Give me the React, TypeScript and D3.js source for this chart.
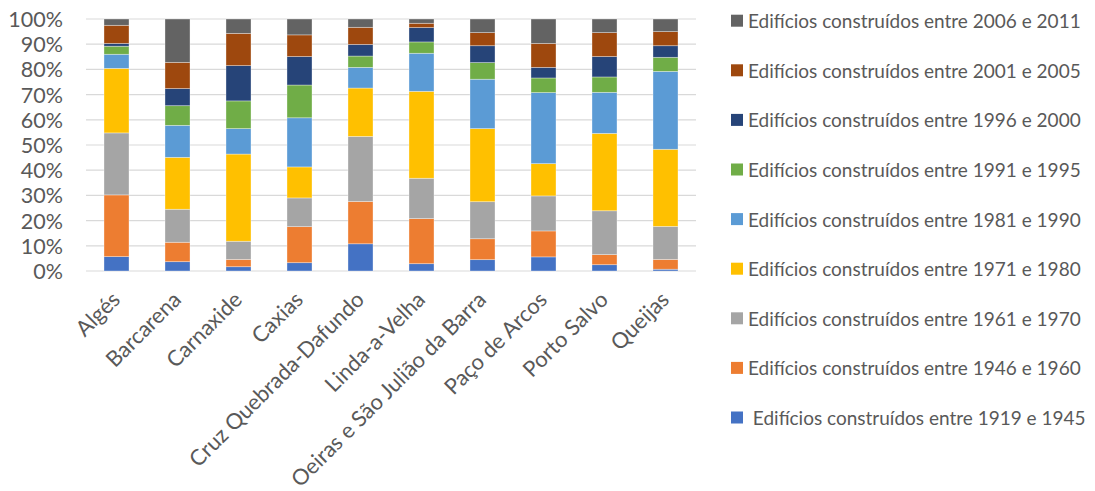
import React, { useEffect } from "react";
import * as d3 from "d3";

const categories = [
  "Algés",
  "Barcarena",
  "Carnaxide",
  "Caxias",
  "Cruz Quebrada-Dafundo",
  "Linda-a-Velha",
  "Oeiras e São Julião da Barra",
  "Paço de Arcos",
  "Porto Salvo",
  "Queijas",
];

// Series, bottom of stack first
const seriesNames = [
  " Edifícios construídos entre 1919 e 1945",
  "Edifícios construídos entre 1946 e 1960",
  "Edifícios construídos entre 1961 e 1970",
  "Edifícios construídos entre 1971 e 1980",
  "Edifícios construídos entre 1981 e 1990",
  "Edifícios construídos entre 1991 e 1995",
  "Edifícios construídos entre 1996 e 2000",
  "Edifícios construídos entre 2001 e 2005",
  "Edifícios construídos entre 2006 e 2011",
];

const colors = [
  "#4472C4",
  "#ED7D31",
  "#A5A5A5",
  "#FFC000",
  "#5B9BD5",
  "#70AD47",
  "#264478",
  "#9E480E",
  "#636363",
];

// Share of buildings (%) per construction period, one array per parish
const s1919_1945 = [5.7, 3.7, 1.7, 3.3, 10.8, 2.9, 4.5, 5.6, 2.5, 0.7];
const s1946_1960 = [24.5, 7.7, 2.9, 14.3, 16.8, 17.9, 8.3, 10.3, 4.0, 3.9];
const s1961_1970 = [24.6, 13.1, 7.2, 11.4, 25.8, 16.0, 14.7, 13.9, 17.4, 13.1];
const s1971_1980 = [25.6, 20.6, 34.6, 12.3, 19.2, 34.5, 29.0, 12.8, 30.7, 30.6];
const s1981_1990 = [5.6, 12.7, 10.1, 19.5, 8.2, 15.1, 19.6, 28.2, 16.3, 30.9];
const s1991_1995 = [3.2, 7.8, 11.0, 13.0, 4.5, 4.5, 6.6, 5.8, 6.1, 5.6];
const s1996_2000 = [1.1, 6.8, 14.0, 11.3, 4.6, 5.7, 6.7, 4.2, 8.1, 4.6];
const s2001_2005 = [7.2, 10.4, 12.8, 8.6, 6.8, 1.7, 5.2, 9.5, 9.5, 5.6];
const s2006_2011 = [2.5, 17.2, 5.7, 6.3, 3.3, 1.7, 5.4, 9.7, 5.4, 5.0];

const seriesValues = [
  s1919_1945,
  s1946_1960,
  s1961_1970,
  s1971_1980,
  s1981_1990,
  s1991_1995,
  s1996_2000,
  s2001_2005,
  s2006_2011,
];

const yTicks = [0, 10, 20, 30, 40, 50, 60, 70, 80, 90, 100];

const W = 1095;
const H = 491;
const plot = { left: 86, right: 696, top: 19, bottom: 271 };
const FONT = "Lato, 'Open Sans', sans-serif";
const TEXT = "#595959";

export default function App() {
  useEffect(() => {
    document.body.style.margin = "0";
  }, []);

  const x = d3
    .scaleBand<string>()
    .domain(categories)
    .range([plot.left, plot.right])
    .paddingInner(0.59)
    .paddingOuter(0.295);

  const y = d3.scaleLinear().domain([0, 100]).range([plot.bottom, plot.top]);

  const rows = categories.map((c, i) => {
    const r: Record<string, number | string> = { category: c };
    const total = d3.sum(seriesValues, (s) => s[i]);
    seriesValues.forEach((s, k) => {
      r["s" + k] = (s[i] / total) * 100;
    });
    return r;
  });
  const keys = seriesValues.map((_, k) => "s" + k);
  const stacked = d3.stack<Record<string, number | string>>().keys(keys)(rows as any);

  const legendOrder = d3.range(seriesNames.length).reverse();

  return (
    <svg width={W} height={H} style={{ display: "block", fontFamily: FONT }}>
      <rect width={W} height={H} fill="#fff" />
      {yTicks.map((t) => (
        <line
          key={t}
          x1={plot.left}
          x2={plot.right}
          y1={y(t)}
          y2={y(t)}
          stroke="#D9D9D9"
          strokeWidth={1.2}
        />
      ))}
      {yTicks.map((t) => (
        <text
          key={"l" + t}
          x={63}
          y={y(t)}
          textAnchor="end"
          dominantBaseline="central"
          fontSize={21.5}
          fill={TEXT}
        >
          {t + "%"}
        </text>
      ))}
      {stacked.map((layer, k) => (
        <g key={k} fill={colors[k]}>
          {layer.map((d, i) => (
            <rect
              key={i}
              x={x(categories[i])}
              width={x.bandwidth()}
              y={y(d[1])}
              height={y(d[0]) - y(d[1])}
              stroke="#ffffff"
              strokeOpacity={0.45}
              strokeWidth={0.75}
            />
          ))}
        </g>
      ))}
      {categories.map((c) => {
        const cx = (x(c) as number) + x.bandwidth() / 2 + 5;
        const cy = plot.bottom + 30;
        return (
          <text
            key={c}
            transform={`translate(${cx},${cy}) rotate(-45)`}
            textAnchor="end"
            fontSize={21.8}
            fill={TEXT}
          >
            {c}
          </text>
        );
      })}
      {legendOrder.map((k, j) => {
        const cy = 20.7 + j * 49.6;
        return (
          <g key={k}>
            <rect x={731} y={cy - 6} width={12} height={12} fill={colors[k]} />
            <text
              x={748}
              y={cy}
              dominantBaseline="central"
              fontSize={19}
              fill={TEXT}
              style={{ whiteSpace: "pre" }}
            >
              {seriesNames[k]}
            </text>
          </g>
        );
      })}
    </svg>
  );
}
